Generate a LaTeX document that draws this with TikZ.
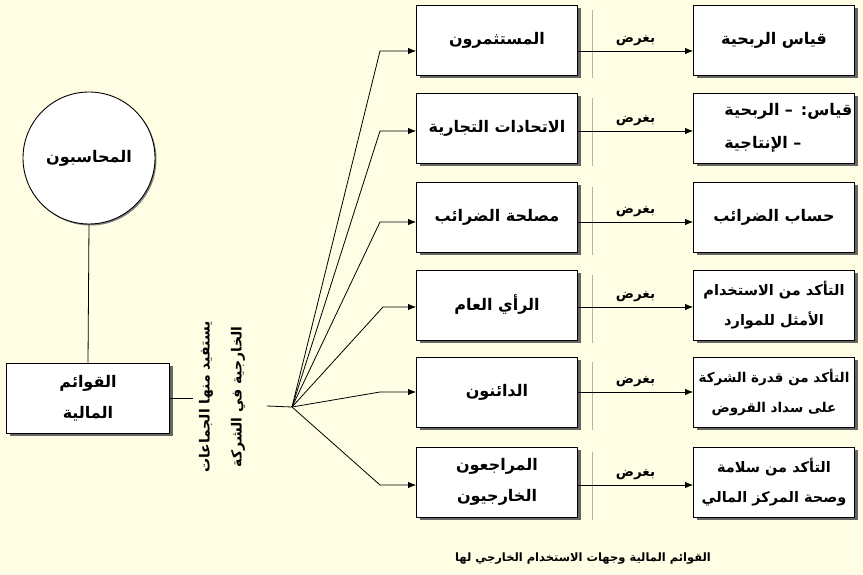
\documentclass[tikz,border=0pt]{standalone}
\usepackage{fontspec}
\newfontfamily\arabicfont[Script=Arabic]{DejaVu Sans}
\TeXXeTstate=1
\usetikzlibrary{shadows,arrows.meta}
\definecolor{paper}{RGB}{255,253,228}
\newcommand{\artext}[1]{\beginR #1\endR}

\begin{document}
\begin{tikzpicture}[x=1pt,y=-1pt,
  usebox/.style={draw,fill=white,line width=0.9pt,minimum width=161pt,minimum height=70pt,
    align=center,font=\arabicfont\bfseries\fontsize{16}{31}\selectfont,
    drop shadow={shadow xshift=3pt,shadow yshift=-3pt,fill=black!60,opacity=1}},
  aimbox/.style={usebox,font=\arabicfont\bfseries\fontsize{14.5}{30}\selectfont},
  fanline/.style={line width=0.8pt,-{Latex[length=8pt,width=6.5pt]}},
  sepline/.style={draw=black!30,line width=0.8pt},
  purpose/.style={midway,above=1pt,font=\arabicfont\bfseries\fontsize{13.5}{15}\selectfont}]
		%%%%% START %%%%%
		
		\fill[paper] (0,0) rectangle (863,575);
		\useasboundingbox (0,0) rectangle (863,575);
		
		\node[draw,circle,fill=white,line width=0.9pt,minimum size=132pt,
		  font=\arabicfont\bfseries\fontsize{16}{18}\selectfont,
		  drop shadow={shadow xshift=1.5pt,shadow yshift=-1.5pt,fill=black!50,opacity=1}]
		  (acc) at (89,158) {\artext{المحاسبون}};
		\node[usebox,minimum width=163pt] (fs) at (88,398) {\artext{القوائم}\\\artext{المالية}};
		\draw[line width=0.8pt] (acc.south) -- (fs.north);
		
		\node[rotate=90,align=center,font=\arabicfont\bfseries\fontsize{14}{32}\selectfont]
		  (users) at (222,397) {\artext{يستفيد منها الجماعات}\\\artext{الخارجية في الشركة}};
		\coordinate (v1) at (193,398);
		\coordinate (v2) at (267,406);
		\coordinate (fan) at (292,407);
		\draw[line width=0.8pt] (fs.east) -- (v1);
		\draw[line width=0.8pt] (v2) -- (fan);
		
		% middle column
		\node[usebox] (m1) at (497,40) {\artext{المستثمرون}};
		\node[usebox] (m2) at (497,128) {\artext{الاتحادات التجارية}};
		\node[usebox] (m3) at (497,217) {\artext{مصلحة الضرائب}};
		\node[usebox] (m4) at (497,305) {\artext{الرأي العام}};
		\node[usebox] (m5) at (497,392) {\artext{الدائنون}};
		\node[usebox] (m6) at (497,482) {\artext{المراجعون}\\\artext{الخارجيون}};
		
		% right column
		\node[usebox] (a1) at (774,40) {\artext{قياس الربحية}};
		\node[usebox,align=right,text width=157pt,inner xsep=2pt,font=\arabicfont\bfseries\fontsize{16}{33}\selectfont]
		  (a2) at (774,128) {\artext{قياس: – الربحية}\\\artext{– الإنتاجية}\hspace{3.2em}\mbox{}};
		\node[usebox] (a3) at (774,217) {\artext{حساب الضرائب}};
		\node[aimbox] (a4) at (774,305) {\artext{التأكد من الاستخدام}\\\artext{الأمثل للموارد}};
		\node[aimbox,font=\arabicfont\bfseries\fontsize{13.5}{30}\selectfont]
		  (a5) at (774,392) {\artext{التأكد من قدرة الشركة}\\\artext{على سداد القروض}};
		\node[aimbox] (a6) at (774,482) {\artext{التأكد من سلامة}\\\artext{وصحة المركز المالي}};
		
		\coordinate (k1) at (380,51);
		\coordinate (k2) at (380,131);
		\coordinate (k3) at (380,222);
		\coordinate (k4) at (383,307);
		\coordinate (k5) at (380,392);
		\coordinate (k6) at (380,485);
		
		\draw[fanline] (fan) -- (k1) -- (m1.west |- k1);
		\draw[fanline] (fan) -- (k2) -- (m2.west |- k2);
		\draw[fanline] (fan) -- (k3) -- (m3.west |- k3);
		\draw[fanline] (fan) -- (k4) -- (m4.west |- k4);
		\draw[fanline] (fan) -- (k5) -- (m5.west |- k5);
		\draw[fanline] (fan) -- (k6) -- (m6.west |- k6);
		
		\draw[sepline] (592,10) -- (592,78);
		\draw[sepline] (592,98) -- (592,166);
		\draw[sepline] (592,187) -- (592,255);
		\draw[sepline] (592,275) -- (592,343);
		\draw[sepline] (592,362) -- (592,430);
		\draw[sepline] (592,452) -- (592,520);
		
		\draw[fanline] (m1.east |- k1) -- (a1.west |- k1) node[purpose] {\artext{بغرض}};
		\draw[fanline] (m2.east |- k2) -- (a2.west |- k2) node[purpose] {\artext{بغرض}};
		\draw[fanline] (m3.east |- k3) -- (a3.west |- k3) node[purpose] {\artext{بغرض}};
		\draw[fanline] (m4.east |- k4) -- (a4.west |- k4) node[purpose] {\artext{بغرض}};
		\draw[fanline] (m5.east |- k5) -- (a5.west |- k5) node[purpose] {\artext{بغرض}};
		\draw[fanline] (m6.east |- k6) -- (a6.west |- k6) node[purpose] {\artext{بغرض}};
		
		\node[font=\arabicfont\bfseries\fontsize{11.5}{13}\selectfont] (title) at (583,559)
		  {\artext{القوائم المالية وجهات الاستخدام الخارجي لها}};
		
		%%%%% END %%%%%
	\end{tikzpicture}
\end{document}
